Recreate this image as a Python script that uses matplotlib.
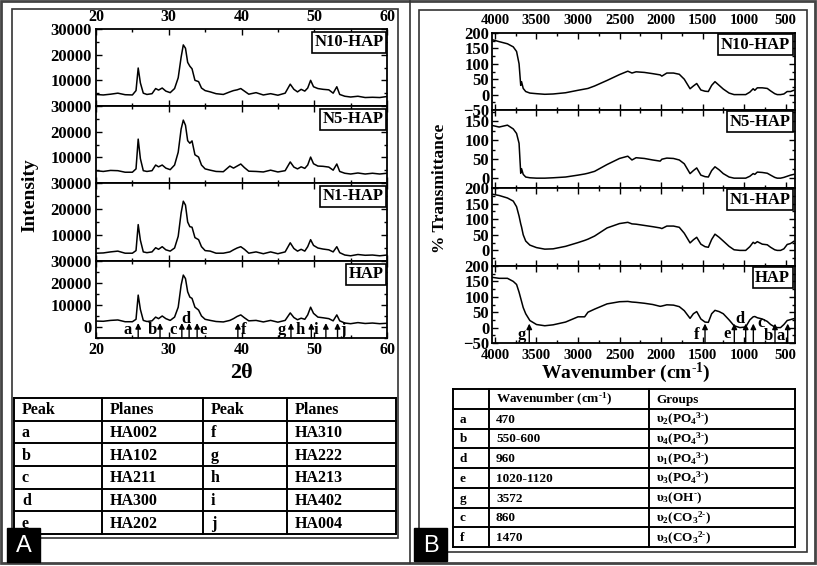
import matplotlib
matplotlib.use("Agg")
import matplotlib.pyplot as plt
from matplotlib.patches import Rectangle
from matplotlib.ticker import MultipleLocator

plt.rcParams['font.family'] = ['Liberation Serif', 'DejaVu Serif']
plt.rcParams['font.weight'] = 'bold'
plt.rcParams['axes.labelweight'] = 'bold'
plt.rcParams['mathtext.fontset'] = 'custom'
plt.rcParams['mathtext.rm'] = 'Liberation Serif:bold'
plt.rcParams['mathtext.bf'] = 'Liberation Serif:bold'
plt.rcParams['mathtext.it'] = 'Liberation Serif:bold:italic'

# ---------------- data: XRD ----------------
two_theta = [20, 21, 22, 23, 24, 25, 25.5, 25.8, 26.1, 26.5, 27, 27.7, 28.2, 28.6, 29.1, 29.6,
             30.2, 30.8, 31.3, 31.7, 32.0, 32.3, 32.6, 32.9, 33.2, 33.6, 34.1, 34.5, 35.0, 35.7,
             36.5, 37.5, 38.4, 38.9, 39.4, 39.9, 40.4, 41.0, 42.0, 43.0, 44.0, 45.0, 46.0, 46.7,
             47.2, 47.7, 48.2, 48.7, 49.1, 49.5, 49.9, 50.5, 51.2, 52.0, 52.6, 53.1, 53.5, 54.2,
             55.0, 56.0, 57.0, 58.0, 59.0, 60.0]
xrd_n10 = [4500, 4300, 4600, 5000, 4400, 4300, 6000, 14800, 9000, 5000, 4500, 4800, 6800, 6200, 7000, 5800,
           5200, 6800, 11000, 19000, 23800, 22500, 17000, 15500, 14500, 10000, 9500, 7000, 6000, 5500,
           4800, 4500, 5500, 6000, 6300, 6800, 5800, 4600, 5200, 4300, 4800, 4200, 5000, 8500,
           6500, 5500, 6500, 5800, 7000, 10000, 7500, 6800, 6500, 6300, 5000, 7500, 4500, 3800,
           3500, 3800, 3300, 3400, 3300, 3700]
xrd_n5 = [4800, 4500, 4900, 4800, 4200, 4200, 5500, 17100, 9500, 4800, 4500, 4800, 7000, 6300, 7000, 5800,
          5200, 7000, 12000, 21000, 24500, 22500, 16500, 15500, 16400, 11000, 10100, 7000, 5500, 5000,
          4500, 4400, 6600, 5800, 6600, 7400, 6000, 4600, 4500, 4300, 5000, 4300, 4800, 8200,
          6200, 5500, 6300, 5700, 7000, 10100, 7500, 6600, 6500, 6200, 5000, 7400, 4500, 3800,
          3500, 3900, 3500, 3800, 3500, 3800]
xrd_n1 = [3000, 3100, 3500, 3800, 3000, 3000, 4000, 14000, 8000, 3500, 3200, 3500, 5100, 4500, 5500, 4300,
          3800, 5000, 9500, 18500, 23000, 21500, 15000, 13200, 13000, 9000, 8200, 5500, 4000, 3800,
          3000, 3000, 3500, 4300, 5000, 5500, 4500, 3000, 3500, 2800, 3500, 2800, 3500, 7000,
          4800, 3800, 4500, 3800, 5500, 8200, 6000, 5000, 4600, 4300, 3500, 5500, 3200, 2300,
          2000, 2500, 2200, 2300, 2000, 2300]
xrd_hap = [2700, 2600, 3000, 3200, 2400, 2400, 3500, 14500, 8000, 3000, 2500, 2800, 4500, 3800, 5000, 3800,
           3000, 4500, 9000, 19000, 23600, 22000, 16000, 13600, 13000, 9000, 7700, 5000, 3500, 3000,
           2500, 2300, 3000, 3800, 4800, 5500, 4200, 2800, 3000, 2300, 3000, 2200, 3000, 6400,
           4300, 3300, 4000, 3500, 5500, 9000, 6200, 4500, 4200, 3800, 2800, 5500, 2800, 1800,
           1500, 2000, 1600, 1800, 1500, 1700]
xrd_names = ['N10-HAP', 'N5-HAP', 'N1-HAP', 'HAP']
xrd_arrow_x = [25.8, 28.8, 31.8, 32.8, 33.9, 39.5, 46.8, 49.6, 51.6, 53.2]
xrd_letters = ['a', 'b', 'c', 'd', 'e', 'f', 'g', 'h', 'i', 'j']
xrd_letter_x = [24.4, 27.7, 30.6, 32.3, 34.7, 40.3, 45.6, 48.0, 50.2, 54.0]
xrd_letter_y = [-1500, -1500, -1500, 3800, -1500, -1500, -1500, -1500, -1500, -1500]

# ---------------- data: FTIR ----------------
wavenumber = [4030, 3950, 3850, 3780, 3740, 3710, 3690, 3680, 3660, 3630, 3580, 3500, 3400, 3300, 3150,
              3000, 2920, 2880, 2800, 2650, 2500, 2400, 2350, 2300, 2200, 2100, 2010, 1990, 1930, 1850,
              1780, 1720, 1650, 1610, 1570, 1520, 1470, 1430, 1390, 1350, 1300, 1250, 1180, 1120, 1050,
              980, 930, 890, 870, 840, 780, 720, 680, 630, 600, 560, 520, 480, 440, 400]
ir_n10 = [178, 172, 165, 155, 140, 100, 30, 42, 20, 10, 5, 3, 1, 2, 6,
          14, 18, 20, 28, 46, 65, 76, 70, 74, 72, 68, 64, 60, 70, 70,
          66, 50, 19, 28, 36, 15, 11, 10, 30, 42, 30, 18, 5, 0, 0,
          0, 8, 19, 14, 22, 22, 20, 12, 3, 0, 0, 2, 10, 10, 14]
ir_n5 = [139, 135, 140, 130, 118, 92, 13, 25, 10, 3, 1, 0, 0, 1, 3,
         8, 11, 13, 18, 36, 52, 58, 48, 54, 52, 48, 45, 50, 53, 52,
         48, 38, 12, 20, 27, 8, 4, 3, 20, 30, 22, 12, 3, 0, 0,
         0, 5, 12, 10, 16, 15, 13, 8, 2, 0, 0, 2, 5, 8, 10]
ir_n1 = [180, 176, 168, 158, 140, 110, 85, 75, 50, 30, 17, 9, 4, 5, 13,
         25, 32, 36, 46, 72, 86, 90, 85, 84, 80, 76, 72, 70, 78, 78,
         74, 55, 24, 34, 42, 20, 12, 10, 35, 52, 42, 30, 13, 2, 0,
         0, 12, 26, 22, 28, 20, 18, 10, 2, 0, 0, 5, 19, 22, 29]
ir_hap = [163, 160, 160, 150, 140, 115, 95, 85, 65, 45, 23, 10, 6, 9, 18,
          35, 35, 50, 60, 77, 84, 85, 83, 82, 79, 75, 69, 70, 74, 73,
          68, 55, 30, 45, 52, 28, 18, 17, 45, 56, 52, 45, 25, 6, 0,
          2, 25, 35, 36, 32, 28, 20, 10, 2, 0, 0, 10, 23, 26, 29]
ir_names = ['N10-HAP', 'N5-HAP', 'N1-HAP', 'HAP']
ir_arrow_x = [3587, 1470, 1117, 980, 888, 627, 474]
ir_letters = ['g', 'f', 'e', 'd', 'c', 'b', 'a']
ir_letter_x = [3680, 1575, 1200, 1048, 795, 707, 554]
ir_letter_y = [-24, -24, -22, 29, 16, -26, -26]

# ---------------- data: tables ----------------
peak_a = ['a', 'b', 'c', 'd', 'e']
plane_a = ['HA002', 'HA102', 'HA211', 'HA300', 'HA202']
peak_b = ['f', 'g', 'h', 'i', 'j']
plane_b = ['HA310', 'HA222', 'HA213', 'HA402', 'HA004']

ir_tab_id = ['a', 'b', 'd', 'e', 'g', 'c', 'f']
ir_tab_wn = ['470', '550-600', '960', '1020-1120', '3572', '860', '1470']
ir_tab_group = ['υ$_2$(PO$_4$$^{3\\text{-}}$)', 'υ$_4$(PO$_4$$^{3\\text{-}}$)', 'υ$_1$(PO$_4$$^{3\\text{-}}$)',
                'υ$_3$(PO$_4$$^{3\\text{-}}$)', 'υ$_3$(OH$^{\\text{-}}$)', 'υ$_2$(CO$_3$$^{2\\text{-}}$)',
                'υ$_3$(CO$_3$$^{2\\text{-}}$)']

W, H = 817, 566
fig = plt.figure(figsize=(W / 100, H / 100), dpi=100)


def rect(l, t, r, b):
    return [l / W, 1 - b / H, (r - l) / W, (b - t) / H]


# overlay for frames & tables
ov = fig.add_axes([0, 0, 1, 1], zorder=0)
ov.set_xlim(0, W)
ov.set_ylim(H, 0)
ov.axis('off')

for (l, t, r, b, lw, c) in [(1, 1, 815, 563, 2.0, '#444444'),
                            (12, 9, 398, 538, 1.2, '#333333'),
                            (419, 10, 807, 552, 1.2, '#333333')]:
    ov.add_patch(Rectangle((l, t), r - l, b - t, fill=False, lw=lw, ec=c))
ov.plot([410, 410], [1, 563], color='#333333', lw=1.2)


def draw_table(x_edges, y_top, y_bot, rows, fs, pad):
    n = len(rows)
    rh = (y_bot - y_top) / n
    for i in range(n + 1):
        y = y_top + i * rh
        ov.plot([x_edges[0], x_edges[-1]], [y, y], color='black', lw=1.4)
    for x in x_edges:
        ov.plot([x, x], [y_top, y_bot], color='black', lw=1.4)
    for i, row in enumerate(rows):
        yc = y_top + (i + 0.5) * rh
        for j, txt in enumerate(row):
            ov.text(x_edges[j] + pad, yc + 1, txt, ha='left', va='center', fontsize=fs,
                    fontweight='bold')


rows_a = [['Peak', 'Planes', 'Peak', 'Planes']] + [
    [peak_a[i], plane_a[i], peak_b[i], plane_b[i]] for i in range(len(peak_a))]
draw_table([14, 102, 203, 287, 396], 398, 534, rows_a, 11.5, 8)

rows_b = [['', 'Wavenumber (cm$^{\\text{-}1}$)', 'Groups']] + [
    [ir_tab_id[i], ir_tab_wn[i], ir_tab_group[i]] for i in range(len(ir_tab_id))]
draw_table([453, 489, 649, 795], 389, 547, rows_b, 9.5, 7)

# panel letters
for (l, t, r, b, s) in [(7, 528, 40, 562, 'A'), (414, 528, 447, 561, 'B')]:
    ov.add_patch(Rectangle((l, t), r - l, b - t, fc='black', ec='black', zorder=5))
    ov.text((l + r) / 2, (t + b) / 2 + 1, s, color='white', ha='center', va='center',
            fontsize=17, family='Liberation Sans', fontweight='normal', zorder=6)


def style(ax):
    ax.tick_params(which='both', direction='in', top=True, right=True, width=1, pad=3)
    ax.tick_params(which='major', length=4)
    ax.tick_params(which='minor', length=2)
    for sp in ax.spines.values():
        sp.set_linewidth(1.3)


# ---------------- XRD panels ----------------
xrd_series = [xrd_n10, xrd_n5, xrd_n1, xrd_hap]
xrd_tops = [29, 106, 183, 261]
xrd_bots = [106, 183, 261, 338]
for k in range(4):
    ax = fig.add_axes(rect(96, xrd_tops[k], 387, xrd_bots[k]), zorder=2)
    ax.plot(two_theta, xrd_series[k], color='black', lw=1.1)
    ax.set_xlim(20, 60)
    ax.xaxis.set_major_locator(MultipleLocator(10))
    ax.xaxis.set_minor_locator(MultipleLocator(5))
    if k < 3:
        ax.set_ylim(0, 30000)
        ax.set_yticks([10000, 20000, 30000])
    else:
        ax.set_ylim(-5000, 30000)
        ax.set_yticks([0, 10000, 20000, 30000])
    ax.yaxis.set_minor_locator(MultipleLocator(5000))
    style(ax)
    ax.tick_params(axis='y', labelsize=12)
    ax.tick_params(axis='x', labelsize=11.5)
    ax.tick_params(labeltop=(k == 0), labelbottom=(k == 3))
    for lab in ax.get_xticklabels() + ax.get_yticklabels():
        lab.set_fontweight('bold')
    ax.text(0.988, 0.93, xrd_names[k], transform=ax.transAxes, ha='right', va='top',
            fontsize=12, fontweight='bold',
            bbox=dict(boxstyle='square,pad=0.15', fc='white', ec='black', lw=1.2))
    if k == 3:
        for xa in xrd_arrow_x:
            ax.annotate('', xy=(xa, 1800), xytext=(xa, -5000),
                        arrowprops=dict(arrowstyle='-|>', color='black', lw=1.0,
                                        mutation_scale=8, shrinkA=0, shrinkB=0))
        for s, xl, yl in zip(xrd_letters, xrd_letter_x, xrd_letter_y):
            ax.text(xl, yl, s, ha='center', va='center', fontsize=12, fontweight='bold')

fig.text(241 / W, 1 - 373 / H, '2θ', ha='center', va='center', fontsize=16, fontweight='bold')
fig.text(30 / W, 1 - 195 / H, 'Intensity', ha='center', va='center', rotation=90,
         fontsize=14, fontweight='bold')

# ---------------- FTIR panels ----------------
ir_series = [ir_n10, ir_n5, ir_n1, ir_hap]
ir_tops = [33, 110, 188, 266]
ir_bots = [110, 188, 266, 343]
ir_ylims = [(-50, 200), (-26, 180), (-50, 200), (-50, 200)]
ir_yticks = [[-50, 0, 50, 100, 150, 200], [0, 50, 100, 150], [0, 50, 100, 150, 200],
             [-50, 0, 50, 100, 150, 200]]
for k in range(4):
    ax = fig.add_axes(rect(492, ir_tops[k], 795, ir_bots[k]), zorder=2)
    ax.plot(wavenumber, ir_series[k], color='black', lw=1.1)
    ax.set_xlim(4036, 386)
    ax.xaxis.set_major_locator(MultipleLocator(500))
    ax.xaxis.set_minor_locator(MultipleLocator(250))
    ax.set_ylim(*ir_ylims[k])
    ax.set_yticks(ir_yticks[k])
    ax.yaxis.set_minor_locator(MultipleLocator(25))
    style(ax)
    ax.tick_params(axis='y', labelsize=12, pad=2)
    ax.tick_params(axis='x', labelsize=10.5, pad=4)
    ax.tick_params(labeltop=(k == 0), labelbottom=(k == 3))
    for lab in ax.get_xticklabels() + ax.get_yticklabels():
        lab.set_fontweight('bold')
    ax.text(0.984, 0.95, ir_names[k], transform=ax.transAxes, ha='right', va='top',
            fontsize=12, fontweight='bold',
            bbox=dict(boxstyle='square,pad=0.15', fc='white', ec='black', lw=1.2))
    if k == 3:
        for xa in ir_arrow_x:
            ax.annotate('', xy=(xa, 13), xytext=(xa, -50),
                        arrowprops=dict(arrowstyle='-|>', color='black', lw=1.0,
                                        mutation_scale=8, shrinkA=0, shrinkB=0))
        for s, xl, yl in zip(ir_letters, ir_letter_x, ir_letter_y):
            ax.text(xl, yl, s, ha='center', va='center', fontsize=12, fontweight='bold')

fig.text(626 / W, 1 - 373 / H, 'Wavenumber (cm$^{\\text{-}1}$)', ha='center', va='center',
         fontsize=14, fontweight='bold')
fig.text(440 / W, 1 - 188 / H, '% Transmittance', ha='center', va='center', rotation=90,
         fontsize=12.5, fontweight='bold')

fig.savefig('out.png', dpi=100)
